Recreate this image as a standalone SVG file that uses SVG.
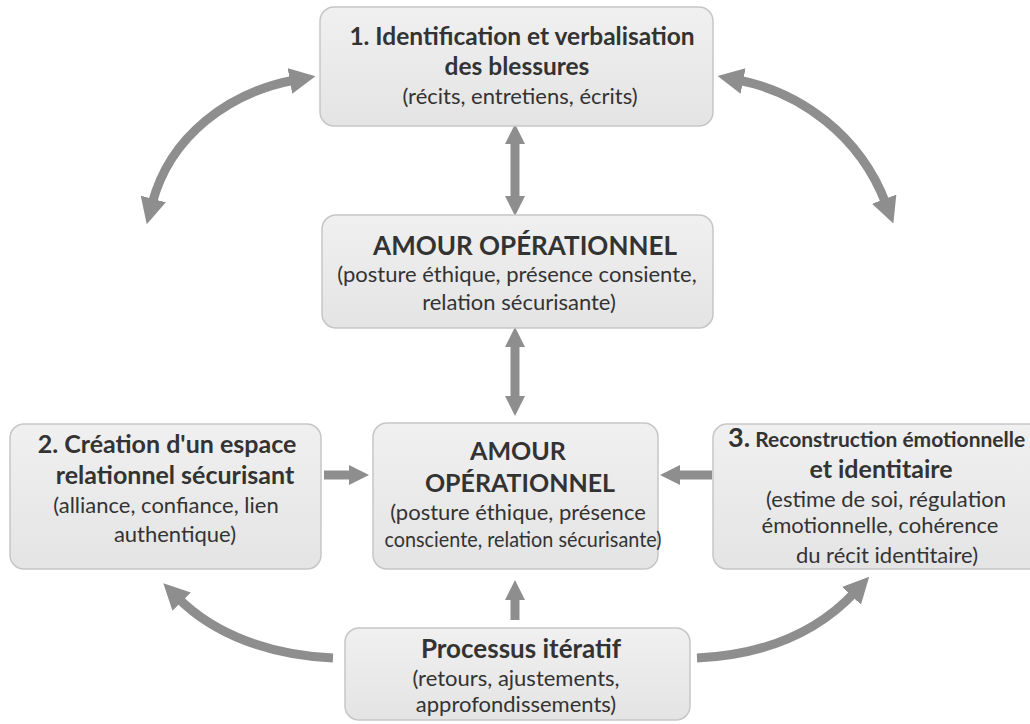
<svg xmlns="http://www.w3.org/2000/svg" width="1030" height="724" viewBox="0 0 1030 724">
<defs>
<linearGradient id="g" x1="0" y1="0" x2="0" y2="1">
<stop offset="0" stop-color="#f0f0f0"/>
<stop offset="1" stop-color="#e4e4e4"/>
</linearGradient>
<marker id="ah" viewBox="0 0 10 10" refX="2" refY="5" markerUnits="userSpaceOnUse" markerWidth="26" markerHeight="26" orient="auto-start-reverse">
<path d="M0,0 L10,5 L0,10 Z" fill="#8e8e8e"/>
</marker>
<marker id="sh" viewBox="0 0 10 10" refX="2" refY="5" markerUnits="userSpaceOnUse" markerWidth="20" markerHeight="22" orient="auto-start-reverse">
<path d="M0,0 L10,5 L0,10 Z" fill="#8e8e8e"/>
</marker>
</defs>
<style>
.box{fill:url(#g);stroke:#c6c6c6;stroke-width:1.5}
.t{font-family:Lato,"Open Sans","Noto Sans",sans-serif;fill:#333;text-anchor:middle}
.b{font-weight:bold;font-size:25px}
.n{font-size:22px}
.c{fill:none;stroke:#8e8e8e;stroke-width:9}
</style>
<rect width="1030" height="724" fill="#ffffff"/>
<g id="connectors">
<path class="c" d="M515,140 L515,200" marker-start="url(#sh)" marker-end="url(#sh)"/>
<path class="c" d="M515,343 L515,400" marker-start="url(#sh)" marker-end="url(#sh)"/>
<path class="c" d="M324,475 L353,475" marker-end="url(#sh)"/>
<path class="c" d="M712,475 L676,475" marker-end="url(#sh)"/>
<path class="c" d="M515,620 L515,596" marker-end="url(#sh)"/>
<path class="c" d="M152,204 C170,135 230,92 295,80" marker-start="url(#ah)" marker-end="url(#ah)"/>
<path class="c" d="M738,80 C800,92 860,135 886,204" marker-start="url(#ah)" marker-end="url(#ah)"/>
<path class="c" d="M333,658 C270,655 215,635 178,598" marker-end="url(#ah)"/>
<path class="c" d="M697,658 C760,655 815,635 855,592" marker-end="url(#ah)"/>
</g>
<g id="node1">
<rect class="box" x="320" y="7" width="393" height="119" rx="14"/>
<text class="t" x="522" y="45" style="font-weight:bold;font-size:24.5px">1. Identification et verbalisation</text>
<text class="t" x="517" y="75" style="font-weight:bold;font-size:24.5px">des blessures</text>
<text class="t n" x="520" y="104">(récits, entretiens, écrits)</text>
</g>
<g id="node-amour-top">
<rect class="box" x="322" y="215" width="391" height="113" rx="14"/>
<text class="t" x="525" y="255" style="font-size:26px;font-weight:bold">AMOUR OPÉRATIONNEL</text>
<text class="t n" x="517" y="282">(posture éthique, présence consiente,</text>
<text class="t n" x="519" y="310">relation sécurisante)</text>
</g>
<g id="node2">
<rect class="box" x="10" y="424" width="311" height="145" rx="14"/>
<text class="t b" x="167" y="453">2. Création d'un espace</text>
<text class="t b" x="175" y="484">relationnel sécurisant</text>
<text class="t n" x="166" y="513">(alliance, confiance, lien</text>
<text class="t n" x="175" y="542">authentique)</text>
</g>
<g id="node-amour-center">
<rect class="box" x="373" y="423" width="285" height="146" rx="14"/>
<text class="t" x="518" y="460" style="font-size:25px;font-weight:bold">AMOUR</text>
<text class="t" x="520" y="492" style="font-size:25px;font-weight:bold">OPÉRATIONNEL</text>
<text class="t n" x="518" y="520">(posture éthique, présence</text>
<text class="t n" x="523" y="547" textLength="277" lengthAdjust="spacingAndGlyphs">consciente, relation sécurisante)</text>
</g>
<g id="node3">
<rect class="box" x="713" y="424" width="330" height="145" rx="14"/>
<text class="t" x="728" y="447" style="font-weight:bold;text-anchor:start"><tspan style="font-size:27px">3.</tspan><tspan style="font-size:21px"> Reconstruction émotionnelle</tspan></text>
<text class="t b" x="881" y="478">et identitaire</text>
<text class="t n" x="886" y="507">(estime de soi, régulation</text>
<text class="t n" x="880" y="533">émotionnelle, cohérence</text>
<text class="t n" x="887" y="563">du récit identitaire)</text>
</g>
<g id="node-processus">
<rect class="box" x="345" y="628" width="345" height="92" rx="14"/>
<text class="t b" x="521" y="658" style="font-size:26px">Processus itératif</text>
<text class="t n" x="516" y="686">(retours, ajustements,</text>
<text class="t n" x="516" y="712">approfondissements)</text>
</g>
</svg>
